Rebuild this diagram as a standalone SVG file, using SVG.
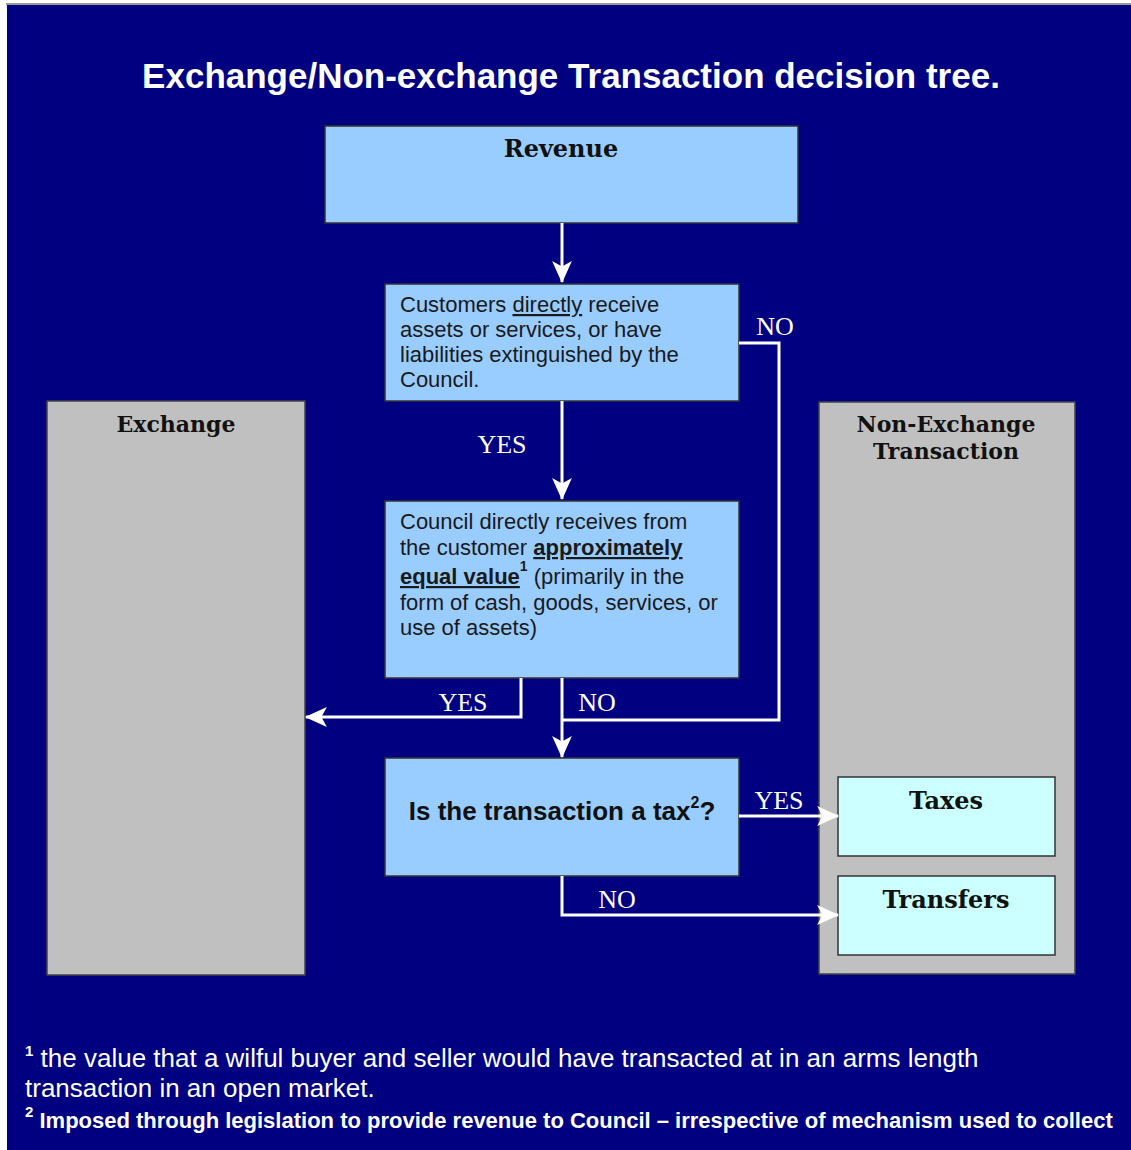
<svg xmlns="http://www.w3.org/2000/svg" width="1131" height="1150" viewBox="0 0 1131 1150">
<defs>
<style>
.bg{fill:#000080}
.blue{fill:#99ccff;stroke:#333;stroke-width:1.5}
.grey{fill:#c0c0c0;stroke:#444;stroke-width:1.5}
.cyan{fill:#ccffff;stroke:#333;stroke-width:1.5}
.sans{font-family:"Liberation Sans",Arial,sans-serif}
.body{font-family:"Liberation Sans",Arial,sans-serif;font-size:22px;fill:#1a1a1a}
.head{font-family:"DejaVu Serif","Liberation Serif",serif;font-weight:bold;fill:#111;text-anchor:middle}
.lbl{font-family:"Liberation Serif","Times New Roman",serif;font-size:26px;fill:#fff}
.conn{fill:none;stroke:#fff;stroke-width:3}
</style>
<marker id="ah" viewBox="0 0 20 20" refX="19" refY="10" markerWidth="22" markerHeight="22" markerUnits="userSpaceOnUse" orient="auto" overflow="visible">
<path d="M0,1 L20,10 L0,19 L5,10 Z" fill="#fff"/>
</marker>
</defs>
<rect x="0" y="0" width="1131" height="1150" fill="#fff"/>
<rect x="6" y="3" width="1125" height="2" fill="#999"/>
<rect class="bg" x="7" y="5" width="1124" height="1145"/>
<text class="sans" x="571" y="88" font-size="35" font-weight="bold" fill="#fff" text-anchor="middle">Exchange/Non-exchange Transaction decision tree.</text>

<g id="revenue">
<rect class="blue" x="325" y="126" width="473" height="97"/>
<text class="head" x="561" y="157" font-size="24">Revenue</text>
</g>

<g id="q1">
<rect class="blue" x="385" y="284" width="354" height="117"/>
<text class="body" x="400" y="312">Customers <tspan text-decoration="underline">directly</tspan> receive</text>
<text class="body" x="400" y="337">assets or services, or have</text>
<text class="body" x="400" y="362">liabilities extinguished by the</text>
<text class="body" x="400" y="387">Council.</text>
</g>

<g id="q2">
<rect class="blue" x="385" y="501" width="354" height="177"/>
<text class="body" x="400" y="529">Council directly receives from</text>
<text class="body" x="400" y="555">the customer <tspan font-weight="bold" text-decoration="underline">approximately</tspan></text>
<text class="body" x="400" y="584"><tspan font-weight="bold" text-decoration="underline">equal value</tspan><tspan font-weight="bold" font-size="14" dy="-13">1</tspan><tspan dy="13"> (primarily in the</tspan></text>
<text class="body" x="400" y="610">form of cash, goods, services, or</text>
<text class="body" x="400" y="635">use of assets)</text>
</g>

<g id="q3">
<rect class="blue" x="385" y="758" width="354" height="118"/>
<text class="sans" x="562" y="820" font-size="26" font-weight="bold" fill="#111" text-anchor="middle">Is the transaction a tax<tspan font-size="16" dy="-12">2</tspan><tspan dy="12">?</tspan></text>
</g>

<g id="exchange">
<rect class="grey" x="47" y="401" width="258" height="574"/>
<text class="head" x="176" y="432" font-size="22">Exchange</text>
</g>

<g id="nonexchange">
<rect class="grey" x="819" y="402" width="256" height="572"/>
<text class="head" x="946" y="432" font-size="22">Non-Exchange</text>
<text class="head" x="946" y="459" font-size="22">Transaction</text>
</g>

<g id="taxes">
<rect class="cyan" x="838" y="777" width="217" height="79"/>
<text class="head" x="946" y="809" font-size="24">Taxes</text>
</g>

<g id="transfers">
<rect class="cyan" x="838" y="876" width="217" height="79"/>
<text class="head" x="946" y="908" font-size="24">Transfers</text>
</g>

<g id="connectors">
<line class="conn" x1="562" y1="223" x2="562" y2="282" marker-end="url(#ah)"/>
<line class="conn" x1="562" y1="401" x2="562" y2="499" marker-end="url(#ah)"/>
<polyline class="conn" points="739,343 779,343 779,720 562,720"/>
<polyline class="conn" points="521,678 521,717 306,717" marker-end="url(#ah)"/>
<line class="conn" x1="562" y1="678" x2="562" y2="757" marker-end="url(#ah)"/>
<line class="conn" x1="739" y1="816" x2="838" y2="816" marker-end="url(#ah)"/>
<polyline class="conn" points="562,876 562,915 838,915" marker-end="url(#ah)"/>
<text class="lbl" x="775" y="335" text-anchor="middle">NO</text>
<text class="lbl" x="502" y="453" text-anchor="middle">YES</text>
<text class="lbl" x="463" y="711" text-anchor="middle">YES</text>
<text class="lbl" x="597" y="711" text-anchor="middle">NO</text>
<text class="lbl" x="779" y="809" text-anchor="middle">YES</text>
<text class="lbl" x="617" y="908" text-anchor="middle">NO</text>
</g>

<g id="footnotes" fill="#fff">
<text class="sans" x="25" y="1067" font-size="26"><tspan font-size="15" font-weight="bold" dy="-11">1</tspan><tspan dy="11"> the value that a wilful buyer and seller would have transacted at in an arms length</tspan></text>
<text class="sans" x="25" y="1097" font-size="26">transaction in an open market.</text>
<text class="sans" x="25" y="1128" font-size="22" font-weight="bold"><tspan font-size="15" dy="-11">2</tspan><tspan dy="11"> Imposed through legislation to provide revenue to Council – irrespective of mechanism used to collect</tspan></text>
</g>
</svg>
